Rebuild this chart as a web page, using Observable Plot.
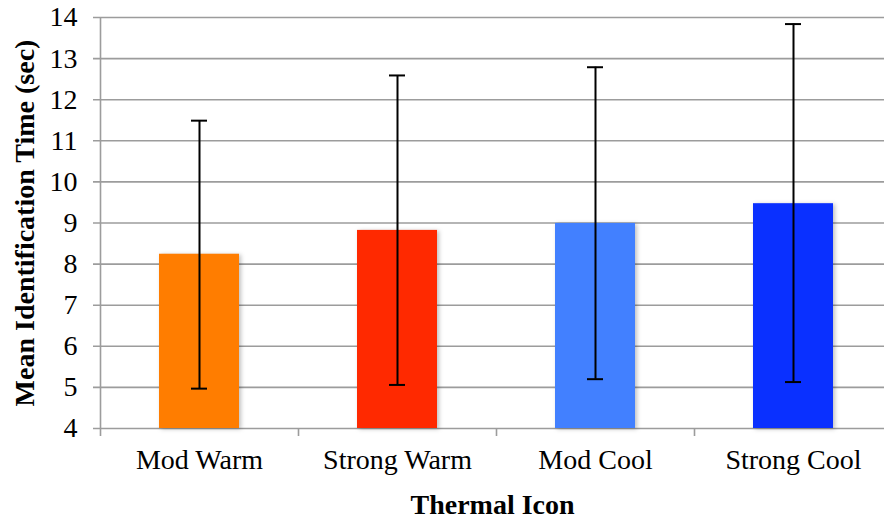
<!DOCTYPE html>
<html>
<head>
<meta charset="utf-8">
<script src="https://cdn.jsdelivr.net/npm/d3@7"></script>
<script src="https://cdn.jsdelivr.net/npm/@observablehq/plot@0.6"></script>
<style>
  html, body { margin: 0; padding: 0; background: #fff; }
  #chart svg { display: block; }
  #chart g[aria-label="bar"] rect { filter: drop-shadow(2px 1px 2px rgba(0,0,0,0.25)); }
</style>
</head>
<body>
<div id="chart"></div>
<script>
const categories = ["Mod Warm", "Strong Warm", "Mod Cool", "Strong Cool"];
const means = [8.24, 8.82, 8.99, 9.47];
const lows = [4.97, 5.06, 5.2, 5.13];
const highs = [11.49, 12.59, 12.79, 13.84];
const colors = ["#FF7D00", "#FF2900", "#4280FF", "#0A30FF"];
const yTicks = [4, 5, 6, 7, 8, 9, 10, 11, 12, 13, 14];
const xTitle = "Thermal Icon";
const yTitle = "Mean Identification Time (sec)";

const data = categories.map((c, i) => ({cat: c, mean: means[i], lo: lows[i], hi: highs[i], color: colors[i]}));

const font = "'Liberation Serif', 'DejaVu Serif', serif";
const half = (892 - 100) / 4 / 2;

const chart = Plot.plot({
  width: 884,
  height: 518,
  marginLeft: 100,
  marginRight: 0,
  marginTop: 17,
  marginBottom: 90,
  style: {fontFamily: font, background: "#fff", color: "#000"},
  x: {domain: categories, range: [100, 892], paddingInner: 0.596, paddingOuter: 0.298, axis: null},
  y: {domain: [4, 14], axis: null},
  color: {domain: categories, range: colors},
  marks: [
    Plot.ruleY(yTicks, {stroke: "#9c9c9c", strokeWidth: 1.6, insetLeft: -7}),
    Plot.ruleX([categories[0]], {dx: -half, stroke: "#9c9c9c", strokeWidth: 1.6, insetBottom: -8}),
    Plot.axisX({tickSize: 8, dx: half, tickFormat: () => "", label: null, stroke: "#9c9c9c", strokeWidth: 1.6}),
    Plot.axisX({tickSize: 0, tickPadding: 21, fontSize: 28, label: null, fill: "#000"}),
    Plot.text(yTicks, {y: d => d, text: d => String(d), frameAnchor: "left", textAnchor: "end", dx: -23, fontSize: 28, fill: "#000"}),
    Plot.barY(data, {x: "cat", y1: 4, y2: "mean", fill: "cat"}),
    Plot.ruleX(data, {x: "cat", y1: "lo", y2: "hi", stroke: "#000", strokeWidth: 2}),
    Plot.tickY(data, {x: "cat", y: "hi", stroke: "#000", strokeWidth: 2, insetLeft: 32, insetRight: 32}),
    Plot.tickY(data, {x: "cat", y: "lo", stroke: "#000", strokeWidth: 2, insetLeft: 32, insetRight: 32}),
    Plot.text([xTitle], {frameAnchor: "bottom", dy: 85, fontSize: 28, fontWeight: "bold", fill: "#000"}),
    Plot.text([yTitle], {frameAnchor: "left", textAnchor: "middle", rotate: -90, dx: -75, fontSize: 28, fontWeight: "bold", fill: "#000"})
  ]
});
document.getElementById("chart").appendChild(chart);
</script>
</body>
</html>
